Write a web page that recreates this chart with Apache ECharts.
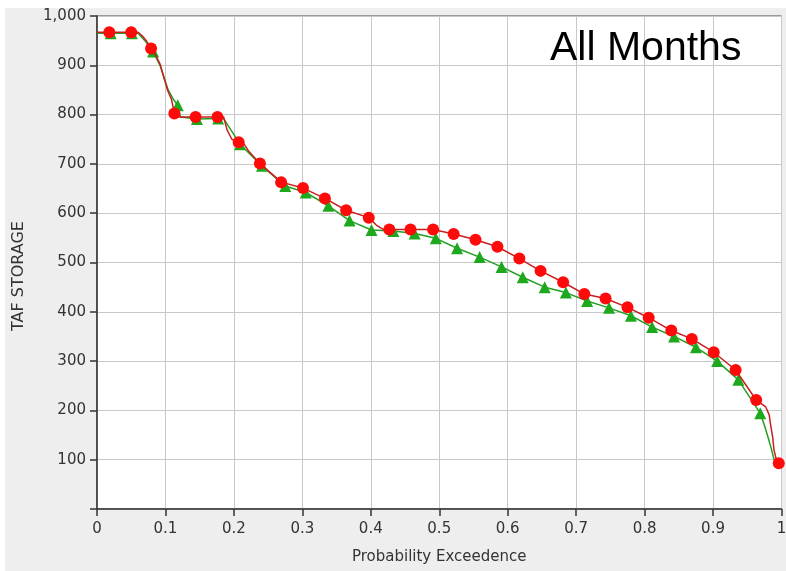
<!DOCTYPE html>
<html>
<head>
<meta charset="utf-8">
<script src="https://cdn.jsdelivr.net/npm/echarts@6/dist/echarts.min.js"></script>
<style>
html,body{margin:0;padding:0;background:#ffffff;}
#bg{position:absolute;left:5px;top:8px;width:781px;height:563px;background:#eeeeee;}
#chart{position:absolute;left:0;top:0;width:786px;height:571px;}
</style>
</head>
<body>
<div id="bg"></div>
<div id="chart"></div>
<script>
// ---- data ----
const xTicks = [0, 0.1, 0.2, 0.3, 0.4, 0.5, 0.6, 0.7, 0.8, 0.9, 1];
const yTicks = [100, 200, 300, 400, 500, 600, 700, 800, 900, 1000];

// red series: marker points
const redMarkP = [0.018,0.050,0.079,0.113,0.144,0.176,0.207,0.238,0.269,0.301,0.333,0.364,0.397,0.427,0.458,0.491,0.521,0.553,0.585,0.617,0.648,0.681,0.712,0.743,0.775,0.806,0.839,0.869,0.901,0.933,0.963,0.996];
const redMarkV = [967,967,934,802,795,795,744,701,663,651,630,606,591,567,567,567,558,546,532,508,483,460,436,427,409,388,362,345,318,282,221,93];
// red series: additional curve vertices between markers
const redCurveP = [0,0.060,0.066,0.072,0.085,0.092,0.103,0.109,0.116,0.185,0.190,0.197,0.215,0.222,0.408,0.418,0.977,0.982,0.9845,0.987,0.989,0.9927,1.0];
const redCurveV = [967,967,960,950,922,903,850,830,795,795,769,750,740,725,576,567,207,191,167,147,120,99,91];

// green series: marker points
const greenMarkP = [0.020,0.051,0.082,0.118,0.146,0.177,0.209,0.241,0.275,0.305,0.338,0.369,0.401,0.433,0.464,0.495,0.526,0.559,0.591,0.622,0.654,0.685,0.716,0.748,0.780,0.811,0.843,0.875,0.906,0.937,0.969];
const greenMarkV = [965,965,928,819,791,792,740,696,655,642,615,585,566,564,559,549,529,511,491,470,450,439,422,408,392,369,350,328,300,262,194];
// green series: additional curve vertices between markers
const greenCurveP = [0,0.060,0.070,0.092,0.104,0.112,0.122,0.185,0.975,0.980,0.985,0.988,0.991,1.0];
const greenCurveV = [965,965,950,900,850,830,795,792,170,147,123,106,93,91];

const xName = 'Probability Exceedence';
const yName = 'TAF STORAGE';
const titleText = 'All Months';

// ---- build ----
function pairs(P, V){ return P.map((p,i)=>[p, V[i]]); }
function curve(mP, mV, cP, cV){
  return pairs(mP, mV).concat(pairs(cP, cV)).sort((a,b)=>a[0]-b[0]);
}

const chart = echarts.init(document.getElementById('chart'), null, {renderer:'canvas'});
const labelFont = {fontFamily:'DejaVu Sans', fontSize:15, color:'#333333'};

chart.setOption({
  animation:false,
  backgroundColor:'transparent',
  title:{
    text:titleText, left:545, top:23,
    textStyle:{fontFamily:'Liberation Sans', fontSize:41, fontWeight:'normal', color:'#000000'}
  },
  grid:{
    left:97, top:16, right:4.5, bottom:62,
    containLabel:false, outerBoundsMode:'none',
    show:true, backgroundColor:'#ffffff', borderColor:'#444444', borderWidth:1
  },
  xAxis:{
    type:'value', min:0, max:1, interval:0.1,
    name:xName, nameLocation:'middle', nameGap:41,
    nameTextStyle:Object.assign({}, labelFont, {fontSize:15}),
    axisLine:{show:true, lineStyle:{color:'#333333', width:1.5}},
    axisTick:{show:true, length:7, lineStyle:{color:'#333333', width:1.5}},
    axisLabel:Object.assign({margin:13, formatter:(v)=>String(Math.round(v*10)/10)}, labelFont),
    splitLine:{show:true, lineStyle:{color:'#c8c8c8', width:1}}
  },
  yAxis:{
    type:'value', min:0, max:1000, interval:100,
    name:yName, nameLocation:'middle', nameGap:70, nameRotate:90,
    nameTextStyle:Object.assign({}, labelFont, {fontSize:16, padding:[0,27,0,0]}),
    axisLine:{show:true, lineStyle:{color:'#333333', width:1.5}},
    axisTick:{show:true, length:7, lineStyle:{color:'#333333', width:1.5}},
    axisLabel:Object.assign({margin:11, formatter:(v)=> v===0 ? '' : v.toLocaleString('en-US')}, labelFont),
    splitLine:{show:true, lineStyle:{color:'#c8c8c8', width:1}}
  },
  series:[
    {
      type:'line', name:'green-line', data:curve(greenMarkP, greenMarkV, greenCurveP, greenCurveV),
      showSymbol:false, symbol:'none', lineStyle:{color:'#23a023', width:1.5}, z:2
    },
    {
      type:'scatter', name:'green-mark', data:pairs(greenMarkP, greenMarkV),
      symbol:'triangle', symbolSize:12, itemStyle:{color:'#1ea81e', opacity:1}, z:3
    },
    {
      type:'line', name:'red-line', data:curve(redMarkP, redMarkV, redCurveP, redCurveV),
      showSymbol:false, symbol:'none', lineStyle:{color:'#c81e1e', width:1.5}, z:4
    },
    {
      type:'scatter', name:'red-mark', data:pairs(redMarkP, redMarkV),
      symbol:'circle', symbolSize:12, itemStyle:{color:'#ff0a0a', opacity:1}, z:5
    }
  ]
});
</script>
</body>
</html>
